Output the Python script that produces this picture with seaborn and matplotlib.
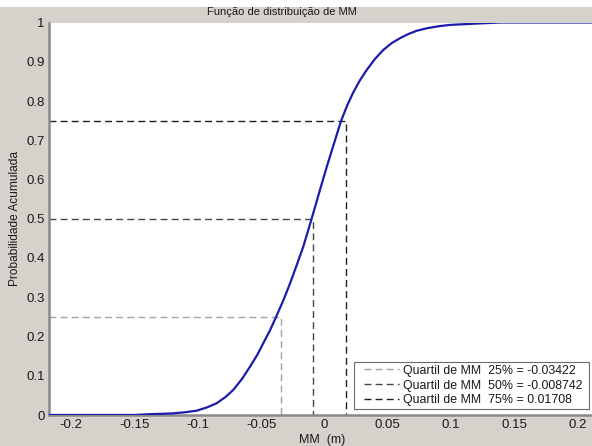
import matplotlib
matplotlib.use("Agg")
import matplotlib.pyplot as plt
from matplotlib.patches import Rectangle
import seaborn as sns
import pandas as pd

# ---- data ----
curve_x = [-0.2175, -0.15, -0.138, -0.12, -0.11, -0.1008, -0.093, -0.085, -0.078,
           -0.0719, -0.065, -0.0587, -0.053, -0.0482, -0.043, -0.0382, -0.032,
           -0.0271, -0.022, -0.0166, -0.010, -0.005, 0.0019, 0.008, 0.013, 0.018,
           0.0229, 0.028, 0.0335, 0.040, 0.0466, 0.053, 0.0598, 0.066, 0.073,
           0.082, 0.0914, 0.10, 0.1125, 0.125, 0.139, 0.2115]
curve_y = [0.0, 0.0, 0.002, 0.004, 0.007, 0.011, 0.019, 0.030, 0.046,
           0.064, 0.092, 0.123, 0.153, 0.183, 0.215, 0.249, 0.295,
           0.335, 0.380, 0.429, 0.500, 0.556, 0.632, 0.695, 0.747, 0.788,
           0.822, 0.852, 0.879, 0.907, 0.930, 0.947, 0.960, 0.970, 0.979,
           0.986, 0.991, 0.994, 0.996, 0.998, 1.0, 1.0]

quartile_probs = [0.25, 0.50, 0.75]
quartile_values = [-0.03422, -0.008742, 0.01708]
quartile_labels = ["Quartil de MM  25% = -0.03422",
                   "Quartil de MM  50% = -0.008742",
                   "Quartil de MM  75% = 0.01708"]
quartile_colors = ["#a3a3a3", "#454545", "#1e1e1e"]

x_ticks = [-0.2, -0.15, -0.1, -0.05, 0, 0.05, 0.1, 0.15, 0.2]
x_tick_labels = ["-0.2", "-0.15", "-0.1", "-0.05", "0", "0.05", "0.1", "0.15", "0.2"]
y_ticks = [0, 0.1, 0.2, 0.3, 0.4, 0.5, 0.6, 0.7, 0.8, 0.9, 1]
y_tick_labels = ["0", "0.1", "0.2", "0.3", "0.4", "0.5", "0.6", "0.7", "0.8", "0.9", "1"]
x_limits = [-0.2175, 0.2115]

title = "Função de distribuição de MM"
x_label = "MM  (m)"
y_label = "Probabilidade Acumulada"

# ---- figure ----
sns.set_theme(style="white")
plt.rcParams["font.family"] = ["Liberation Sans", "DejaVu Sans"]

W, H = 592, 446
bg = "#d5d1cb"
fig = plt.figure(figsize=(W / 100, H / 100), dpi=100, facecolor=bg)
# white strip at top (cropped page)
fig.patches.append(Rectangle((0, 1 - 7 / H), 1, 7 / H, transform=fig.transFigure,
                             facecolor="white", edgecolor="none", zorder=0))

ax = fig.add_axes([49 / W, 1 - 415 / H, (W - 49) / W, (415 - 22.5) / H])
ax.set_facecolor("white")

df = pd.DataFrame({"x": curve_x, "y": curve_y})
sns.lineplot(data=df, x="x", y="y", ax=ax, color="#1c1caa", linewidth=1.6,
             sort=False, zorder=3, legend=False)

for p, q, lab, c in zip(quartile_probs, quartile_values, quartile_labels, quartile_colors):
    ax.plot([x_limits[0], q, q], [p, p, 0], linestyle=(0, (5, 3)), color=c,
            linewidth=1.0, label=lab, zorder=2)

ax.set_xlim(*x_limits)
ax.set_ylim(0, 1)
ax.set_xticks(x_ticks)
ax.set_xticklabels(x_tick_labels)
ax.set_yticks(y_ticks)
ax.set_yticklabels(y_tick_labels)
ax.set_xlabel("")
ax.set_ylabel("")
ax.tick_params(axis="both", direction="in", length=4, width=0.8, color="#7a7a7a",
               labelsize=9.5, labelcolor="#1a1a1a")
ax.tick_params(axis="x", pad=3)
ax.tick_params(axis="y", pad=3)
for s in ["top", "right"]:
    ax.spines[s].set_visible(False)
for s in ["left", "bottom"]:
    ax.spines[s].set_color("#8a8a8a")
    ax.spines[s].set_linewidth(1.8)

fig.text(282 / W, 1 - 12 / H, title, ha="center", va="center", fontsize=8,
         color="#1a1a1a")
fig.text(322 / W, 1 - 440 / H, x_label, ha="center", va="center", fontsize=9,
         color="#1a1a1a")
fig.text(15 / W, 1 - 219 / H, y_label, ha="center", va="center", fontsize=8.6,
         rotation=90, color="#1a1a1a")

# legend box (drawn inside the axes so the legend sits on top of it)
ax.add_patch(Rectangle((354 / W, 1 - 409 / H), (589 - 354) / W, (409 - 362) / H,
                       transform=fig.transFigure, facecolor="white",
                       edgecolor="#6a6a6a", linewidth=0.8, zorder=5, clip_on=False))
leg = ax.legend(loc="center left", bbox_to_anchor=(364 / W, 1 - 385.5 / H),
                bbox_transform=fig.transFigure, borderaxespad=0, borderpad=0,
                fontsize=8.9, handlelength=2.85, handletextpad=0.3,
                labelspacing=0.22, frameon=False)
leg.set_zorder(6)
for t in leg.get_texts():
    t.set_color("#1a1a1a")

fig.savefig("out.png", dpi=100, facecolor=bg)
